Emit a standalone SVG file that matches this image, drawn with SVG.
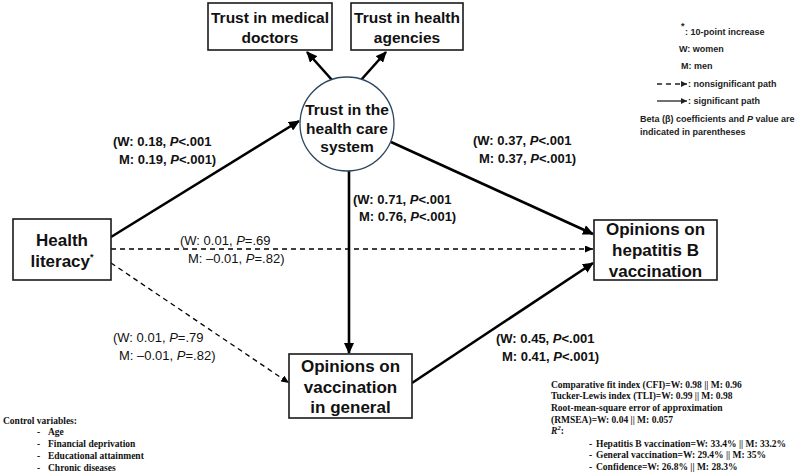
<svg xmlns="http://www.w3.org/2000/svg" width="800" height="475" viewBox="0 0 800 475">
  <defs>
    <style>
      .box { fill: #ffffff; stroke: #1a1a1a; stroke-width: 1.6; }
      .node { font-family: "Liberation Sans", Arial, sans-serif; font-weight: bold; fill: #111; text-anchor: middle; }
      .lab { font-family: "Liberation Sans", Arial, sans-serif; font-size: 13px; fill: #111; }
      .labb { font-weight: bold; }
      .leg { font-family: "Liberation Sans", Arial, sans-serif; font-size: 9px; font-weight: bold; fill: #222; }
      .ser { font-family: "Liberation Serif", "Times New Roman", serif; font-size: 9.5px; font-weight: bold; fill: #111; }
      .solid { stroke: #000; stroke-width: 2.6; fill: none; }
      .dash { stroke: #000; stroke-width: 1.3; fill: none; stroke-dasharray: 5 4; }
      .it { font-style: italic; }
    </style>
    <marker id="arrowSolid" markerUnits="userSpaceOnUse" markerWidth="11" markerHeight="10" refX="10" refY="5" orient="auto">
      <path d="M0,0 L11,5 L0,10 Z" fill="#000"/>
    </marker>
    <marker id="arrowDash" markerUnits="userSpaceOnUse" markerWidth="8" markerHeight="7" refX="8" refY="3.5" orient="auto">
      <path d="M0,0 L8,3.5 L0,7 Z" fill="#000"/>
    </marker>
    <marker id="arrowSmall" markerUnits="userSpaceOnUse" markerWidth="6" markerHeight="6" refX="6" refY="3" orient="auto">
      <path d="M0,0 L6,3 L0,6 Z" fill="#222"/>
    </marker>
  </defs>

  <rect width="800" height="475" fill="#ffffff"/>

  <!-- paths between constructs -->
  <g id="connectors">
    <line class="solid" x1="111" y1="237" x2="299" y2="121" marker-end="url(#arrowSolid)"/>
    <line class="solid" x1="332" y1="80" x2="307" y2="52" marker-end="url(#arrowSolid)"/>
    <line class="solid" x1="361" y1="80" x2="386" y2="52" marker-end="url(#arrowSolid)"/>
    <line class="solid" x1="391" y1="142" x2="593" y2="234" marker-end="url(#arrowSolid)"/>
    <line class="solid" x1="349" y1="171" x2="349" y2="353" marker-end="url(#arrowSolid)"/>
    <line class="solid" x1="412" y1="383" x2="593" y2="263" marker-end="url(#arrowSolid)"/>
    <line class="dash" x1="111" y1="249" x2="593" y2="249" marker-end="url(#arrowDash)"/>
    <line class="dash" x1="111" y1="263" x2="289" y2="383" marker-end="url(#arrowDash)"/>

    <!-- path coefficients -->
    <text class="lab labb" x="113" y="146">(W: 0.18, <tspan class="it">P</tspan>&lt;.001</text>
    <text class="lab labb" x="119" y="164">M: 0.19, <tspan class="it">P</tspan>&lt;.001)</text>

    <text class="lab labb" x="473" y="145">(W: 0.37, <tspan class="it">P</tspan>&lt;.001</text>
    <text class="lab labb" x="479" y="163">M: 0.37, <tspan class="it">P</tspan>&lt;.001)</text>

    <text class="lab labb" x="353" y="204">(W: 0.71, <tspan class="it">P</tspan>&lt;.001</text>
    <text class="lab labb" x="359" y="221">M: 0.76, <tspan class="it">P</tspan>&lt;.001)</text>

    <text class="lab" x="180" y="245">(W: 0.01, <tspan class="it">P</tspan>=.69</text>
    <text class="lab" x="188" y="263">M: –0.01, <tspan class="it">P</tspan>=.82)</text>

    <text class="lab" x="113" y="342">(W: 0.01, <tspan class="it">P</tspan>=.79</text>
    <text class="lab" x="119" y="360">M: –0.01, <tspan class="it">P</tspan>=.82)</text>

    <text class="lab labb" x="496" y="343">(W: 0.45, <tspan class="it">P</tspan>&lt;.001</text>
    <text class="lab labb" x="502" y="361">M: 0.41, <tspan class="it">P</tspan>&lt;.001)</text>
  </g>

  <!-- constructs -->
  <g id="health-literacy">
    <rect class="box" x="13" y="219" width="98" height="61"/>
    <text class="node" font-size="17" x="62" y="246">Health</text>
    <text class="node" font-size="17" x="62" y="267">literacy<tspan font-size="9" dy="-7">*</tspan></text>
  </g>

  <g id="trust-system">
    <circle cx="347" cy="124" r="47" fill="#ffffff" stroke="#2c465e" stroke-width="1.3"/>
    <text class="node" font-size="15.5" x="347" y="115">Trust in the</text>
    <text class="node" font-size="15.5" x="347" y="134">health care</text>
    <text class="node" font-size="15.5" x="347" y="152">system</text>
  </g>

  <g id="trust-doctors">
    <rect class="box" x="208" y="3" width="124" height="47"/>
    <text class="node" font-size="15.5" x="270" y="23">Trust in medical</text>
    <text class="node" font-size="15.5" x="270" y="43">doctors</text>
  </g>

  <g id="trust-agencies">
    <rect class="box" x="351" y="3" width="112" height="47"/>
    <text class="node" font-size="15.5" x="407" y="23">Trust in health</text>
    <text class="node" font-size="15.5" x="407" y="43">agencies</text>
  </g>

  <g id="opinions-hepb">
    <rect class="box" x="594" y="220" width="123" height="60"/>
    <text class="node" font-size="17" x="655.5" y="235">Opinions on</text>
    <text class="node" font-size="17" x="655.5" y="256">hepatitis B</text>
    <text class="node" font-size="17" x="655.5" y="277">vaccination</text>
  </g>

  <g id="opinions-general">
    <rect class="box" x="289" y="354" width="123" height="64"/>
    <text class="node" font-size="17" x="350.5" y="372">Opinions on</text>
    <text class="node" font-size="17" x="350.5" y="393">vaccination</text>
    <text class="node" font-size="17" x="350.5" y="413">in general</text>
  </g>

  <!-- key -->
  <g id="legend">
    <text class="leg" x="681" y="29" font-size="7">*</text>
    <text class="leg" x="685" y="35">: 10-point increase</text>
    <text class="leg" x="679" y="52">W: women</text>
    <text class="leg" x="681" y="69">M: men</text>
    <line x1="657" y1="84" x2="687" y2="84" stroke="#222" stroke-width="1.3" stroke-dasharray="5 4" marker-end="url(#arrowSmall)"/>
    <text class="leg" x="688" y="87">: nonsignificant path</text>
    <line x1="657" y1="101" x2="687" y2="101" stroke="#222" stroke-width="1.3" marker-end="url(#arrowSmall)"/>
    <text class="leg" x="688" y="104">: significant path</text>
    <text class="leg" x="640" y="122">Beta (β) coefficients and <tspan class="it">P</tspan> value are</text>
    <text class="leg" x="640" y="135">indicated in parentheses</text>
  </g>

  <!-- covariates -->
  <g id="control-variables">
    <text class="ser" x="3" y="424">Control variables:</text>
    <text class="ser" x="37" y="435">-</text><text class="ser" x="48" y="435">Age</text>
    <text class="ser" x="37" y="447">-</text><text class="ser" x="48" y="447">Financial deprivation</text>
    <text class="ser" x="37" y="459">-</text><text class="ser" x="48" y="459">Educational attainment</text>
    <text class="ser" x="37" y="471">-</text><text class="ser" x="48" y="471">Chronic diseases</text>
  </g>

  <!-- model fit -->
  <g id="fit-indices">
    <text class="ser" x="551" y="388">Comparative fit index (CFI)=W: 0.98 || M: 0.96</text>
    <text class="ser" x="551" y="399">Tucker-Lewis index (TLI)=W: 0.99 || M: 0.98</text>
    <text class="ser" x="551" y="411">Root-mean-square error of approximation</text>
    <text class="ser" x="551" y="423">(RMSEA)=W: 0.04 || M: 0.057</text>
    <text class="ser" x="551" y="434"><tspan class="it">R</tspan><tspan class="it" font-size="7" dy="-4">2</tspan><tspan dy="4">:</tspan></text>
    <text class="ser" x="589" y="447">-</text><text class="ser" x="596" y="447">Hepatitis B vaccination=W: 33.4% || M: 33.2%</text>
    <text class="ser" x="589" y="458">-</text><text class="ser" x="596" y="458">General vaccination=W: 29.4% || M: 35%</text>
    <text class="ser" x="589" y="470">-</text><text class="ser" x="596" y="470">Confidence=W: 26.8% || M: 28.3%</text>
  </g>
</svg>
